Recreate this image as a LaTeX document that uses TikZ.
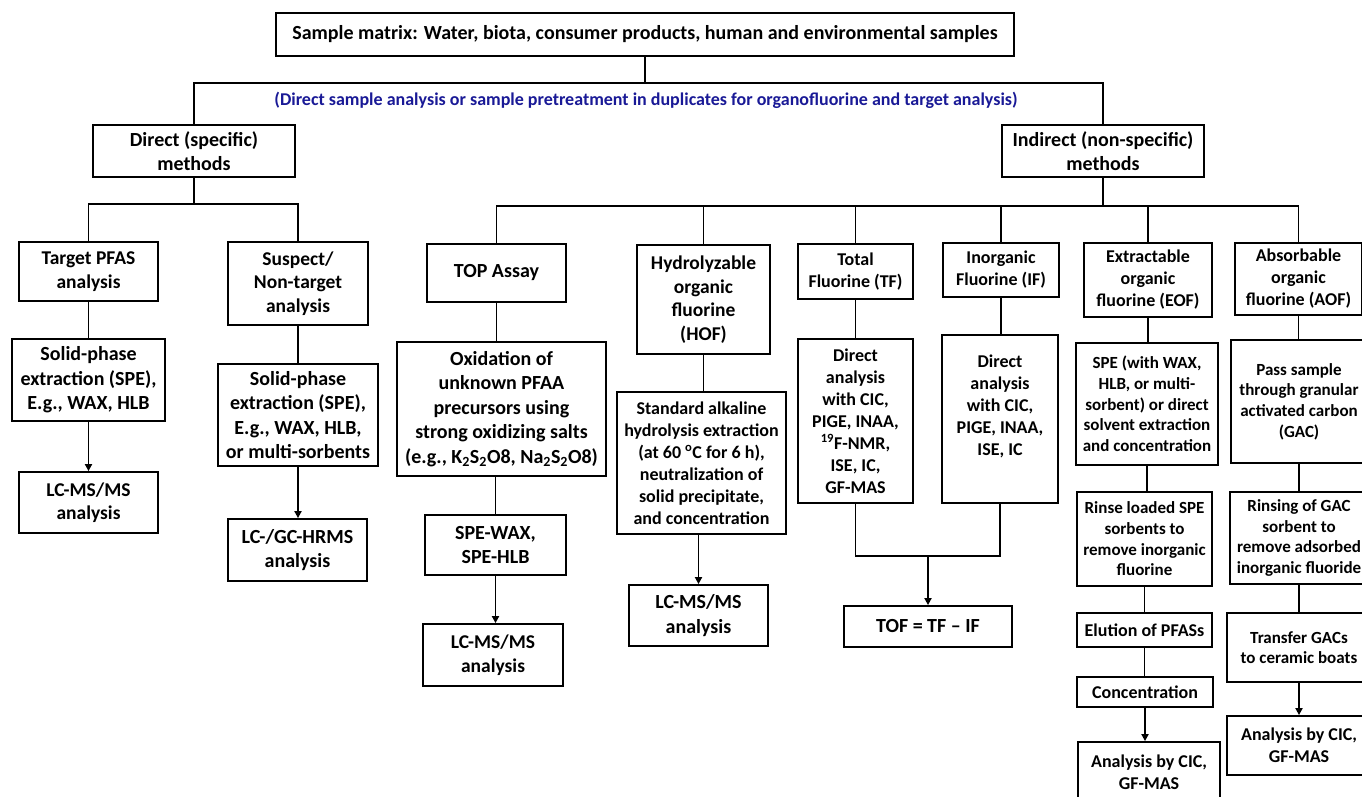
\documentclass[tikz,border=0pt]{standalone}
\usepackage{fontspec}
\setmainfont{Carlito}
\usetikzlibrary{arrows.meta}
\definecolor{bluetxt}{RGB}{25,25,150}
\newcommand\bx[7]{\node[box,#2, minimum width={(#5-#3)*1pt}, minimum height={(#6-#4)*1pt}] (#1) at ({(#3+#5)/2},{(#4+#6)/2}) {#7};}
\begin{document}
\begin{tikzpicture}[x=1pt,y=-1pt,
  box/.style={draw, line width=1.8pt, inner sep=1pt, align=center},
  fA/.style={font=\fontsize{20}{24.4}\selectfont\bfseries},
  fB/.style={font=\fontsize{19.5}{23.6}\selectfont\bfseries},
  fC/.style={font=\fontsize{18}{22}\selectfont\bfseries},
  fD/.style={font=\fontsize{17}{20.7}\selectfont\bfseries},
  conn/.style={line width=1.8pt},
  arr/.style={line width=1.8pt, -{Triangle[length=7pt,width=7pt]}}]
\useasboundingbox (0,0) rectangle (1362,797);
\clip (0,0) rectangle (1362,797);
\bx{top}{fA}{276}{13}{1014}{56}{Sample matrix: Water, biota, consumer products, human and environmental samples}
\node[fC, text=bluetxt, inner sep=0pt] (note) at (646,100) {(Direct sample analysis or sample pretreatment in duplicates for organofluorine and target analysis)};
\bx{direct}{fA}{93}{125}{295}{177}{Direct (specific)\\methods}
\bx{indirect}{fA}{1002}{125}{1204}{177}{Indirect (non-specific)\\methods}
\bx{target}{fB}{19}{242}{158}{301}{Target PFAS\\analysis}
\bx{suspect}{fB}{228}{242}{368}{325}{Suspect/\\Non-target\\analysis}
\bx{tspe}{fA}{12}{339}{165}{421}{Solid-phase\\extraction (SPE),\\E.g., WAX, HLB}
\bx{sspe}{fA}{218}{364}{378}{466}{Solid-phase\\extraction (SPE),\\E.g., WAX, HLB,\\or multi-sorbents}
\bx{tlc}{fB}{19}{472}{158}{533}{LC-MS/MS\\analysis}
\bx{slc}{fA}{228}{519}{367}{581}{LC-/GC-HRMS\\analysis}
\bx{topa}{fA}{427}{244}{566}{302}{TOP Assay}
\bx{oxid}{fA}{397}{342}{606}{476}{Oxidation of\\unknown PFAA\\precursors using\\strong oxidizing salts\\(e.g., K\textsubscript{2}S\textsubscript{2}O8, Na\textsubscript{2}S\textsubscript{2}O8)}
\bx{spewax}{fA}{425}{515}{566}{575}{SPE-WAX,\\SPE-HLB}
\bx{toplc}{fB}{423}{624}{563}{686}{LC-MS/MS\\analysis}
\bx{hof}{fB}{637}{245}{770}{354}{Hydrolyzable\\organic\\fluorine\\(HOF)}
\bx{std}{fC}{617}{392}{786}{534}{Standard alkaline\\hydrolysis extraction\\(at 60 \textsuperscript{o}C for 6 h),\\neutralization of\\solid precipitate,\\and concentration}
\bx{hoflc}{fA}{629}{585}{768}{646}{LC-MS/MS\\analysis}
\bx{tf}{fC}{798}{244}{913}{299}{Total\\Fluorine (TF)}
\bx{iff}{fC}{943}{243}{1059}{297}{Inorganic\\Fluorine (IF)}
\bx{tfd}{fC}{798}{339}{913}{503}{Direct\\analysis\\with CIC,\\PIGE, INAA,\\\textsuperscript{19}F-NMR,\\ISE, IC,\\GF-MAS}
\bx{ifd}{fC}{942}{335}{1058}{503}{Direct\\analysis\\with CIC,\\PIGE, INAA,\\ISE, IC\\[6pt]}
\bx{tof}{fA}{844}{606}{1012}{647}{TOF = TF -- IF}
\bx{eof}{fC}{1084}{243}{1212}{317}{Extractable\\organic\\fluorine (EOF)}
\bx{espe}{fD}{1076}{343}{1218}{465}{SPE (with WAX,\\HLB, or multi-\\sorbent) or direct\\solvent extraction\\and concentration}
\bx{rinse}{fD}{1077}{492}{1212}{586}{Rinse loaded SPE\\sorbents to\\remove inorganic\\fluorine}
\bx{elu}{fC}{1077}{613}{1212}{647}{Elution of PFASs}
\bx{conc}{fC}{1077}{677}{1213}{707}{Concentration}
\bx{eana}{fC}{1078}{742}{1220}{802}{Analysis by CIC,\\GF-MAS}
\bx{aof}{fC}{1235}{243}{1362}{315}{Absorbable\\organic\\fluorine (AOF)}
\bx{pass}{fD}{1231}{340}{1367}{463}{Pass sample\\through granular\\activated carbon\\(GAC)}
\bx{rinsing}{fD}{1230}{492}{1368}{584}{Rinsing of GAC\\sorbent to\\remove adsorbed\\inorganic fluoride}
\bx{transfer}{fD}{1227}{613}{1371}{682}{Transfer GACs\\to ceramic boats}
\bx{aana}{fC}{1227}{716}{1371}{775}{Analysis by CIC,\\GF-MAS}
% tree connectors
\draw[conn] (top.south) -- ++(0,26) -| (direct.north);
\draw[conn] (top.south) -- ++(0,26) -| (indirect.north);
\draw[conn] (direct.south) -- ++(0,26) -| (target.north);
\draw[conn] (direct.south) -- ++(0,26) -| (suspect.north);
\foreach \n in {topa,hof,tf,iff,eof,aof}
  \draw[conn] (indirect.south) -- ++(0,28) -| (\n.north);
% chains
\draw[conn] (target.south) -- (target.south |- tspe.north);
\draw[arr] (tspe.south) -- (tspe.south |- tlc.north);
\draw[conn] (suspect.south) -- (suspect.south |- sspe.north);
\draw[arr] (sspe.south) -- (sspe.south |- slc.north);
\draw[conn] (topa.south) -- (topa.south |- oxid.north);
\draw[conn] (oxid.south -| spewax.north) -- (spewax.north);
\draw[arr] (spewax.south) -- (spewax.south |- toplc.north);
\draw[conn] (hof.south) -- (hof.south |- std.north);
\draw[arr] (hoflc.north |- std.south) -- (hoflc.north);
\draw[conn] (tf.south) -- (tf.south |- tfd.north);
\draw[conn] (iff.south) -- (iff.south |- ifd.north);
\coordinate (mrg) at (928,556);
\draw[conn] (tfd.south) |- (mrg) -| (ifd.south);
\draw[arr] (mrg) -- (tof.north);
\draw[conn] (eof.south) -- (eof.south |- espe.north);
\draw[conn] (espe.south) -- (espe.south |- rinse.north);
\draw[conn] (rinse.south) -- (rinse.south |- elu.north);
\draw[conn] (elu.south) -- (elu.south |- conc.north);
\draw[arr] (conc.south) -- (conc.south |- eana.north);
\draw[conn] (aof.south) -- (aof.south |- pass.north);
\draw[conn] (pass.south) -- (pass.south |- rinsing.north);
\draw[conn] (rinsing.south) -- (rinsing.south |- transfer.north);
\draw[arr] (transfer.south) -- (transfer.south |- aana.north);
\end{tikzpicture}
\end{document}
